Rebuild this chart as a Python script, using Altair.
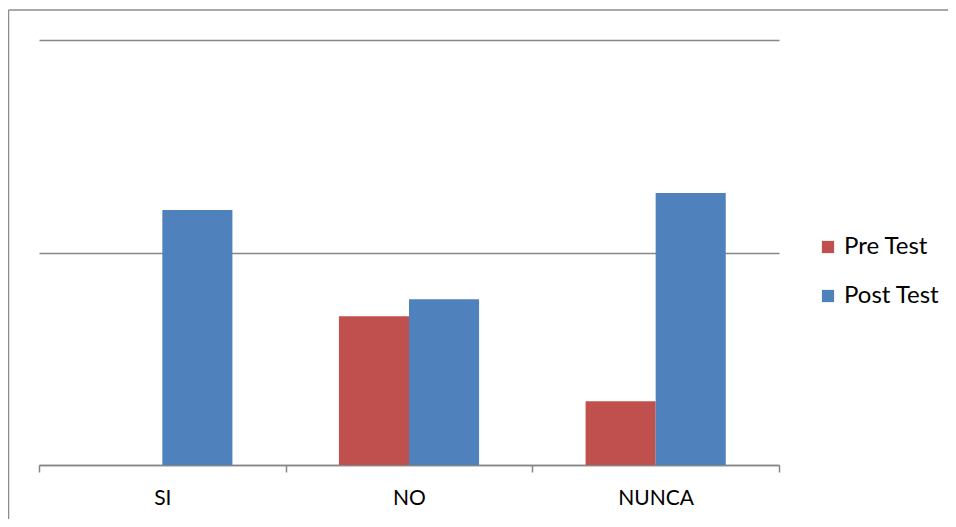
import altair as alt
import pandas as pd

categories = ["SI", "NO", "NUNCA"]
series = ["Pre Test", "Post Test"]
pre_values = [0.0, 3.5, 1.5]
post_values = [6.0, 3.9, 6.4]

rows = []
for c, p, q in zip(categories, pre_values, post_values):
    rows.append({"cat": c, "serie": "Pre Test", "val": p})
    rows.append({"cat": c, "serie": "Post Test", "val": q})
df = pd.DataFrame(rows)

FONT = "Lato"

bars = alt.Chart(df).mark_bar(stroke=None).encode(
    x=alt.X("cat:N", sort=categories,
            scale=alt.Scale(paddingInner=0, paddingOuter=0),
            axis=alt.Axis(title=None, labelAngle=0, labelFontSize=21, labelFont=FONT,
                          labelColor="#000000", labelPadding=15, tickBand="extent",
                          ticks=True, tickSize=7, tickColor="#868686", tickWidth=1.5,
                          domainColor="#868686", domainWidth=1.5, grid=False)),
    xOffset=alt.XOffset("serie:N", sort=series,
                        scale=alt.Scale(paddingInner=0, paddingOuter=0.76)),
    y=alt.Y("val:Q", scale=alt.Scale(domain=[0, 10], nice=False),
            axis=alt.Axis(title=None, labels=False, ticks=False, domain=False,
                          values=[0, 5, 10], grid=True, gridColor="#868686",
                          gridWidth=1.5)),
    color=alt.Color("serie:N", sort=series,
                    scale=alt.Scale(domain=series, range=["#C0504D", "#4F81BD"]),
                    legend=alt.Legend(title=None, orient="none", legendX=777, legendY=195,
                                      symbolType="square", symbolSize=150,
                                      symbolStrokeWidth=0, labelFontSize=24,
                                      labelFont=FONT, labelColor="#000000",
                                      rowPadding=25, labelOffset=4)),
)

base = alt.Chart(pd.DataFrame({"a": [0]}))
frame_left = base.mark_rule(stroke="#8c8c8c", strokeWidth=1.5).encode(
    x=alt.value(-30.5), y=alt.value(-30), y2=alt.value(560))
frame_top = base.mark_rule(stroke="#8c8c8c", strokeWidth=1.5).encode(
    x=alt.value(-30.5), x2=alt.value(960), y=alt.value(-30))

chart = alt.layer(frame_left, frame_top, bars).properties(
    width=740, height=425,
    autosize=alt.AutoSizeParams(type="none"),
    padding={"left": 31, "top": 32, "right": 169, "bottom": 54},
).configure(background="white").configure_view(stroke=None)

chart.save("out.html", embed_options={"renderer": "svg", "actions": False})
